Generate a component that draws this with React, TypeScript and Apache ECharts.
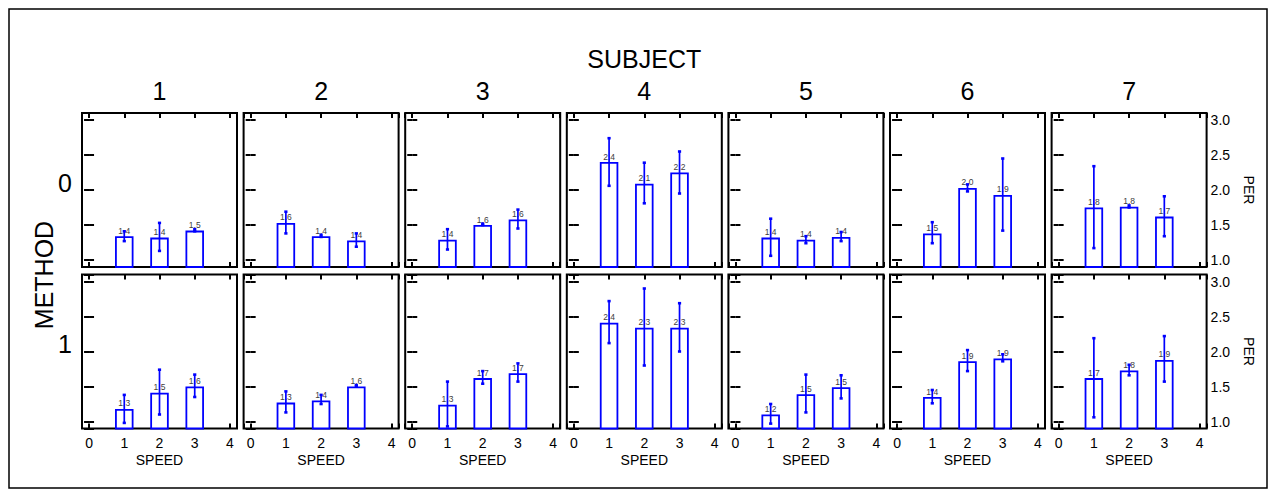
import React, { useEffect, useRef } from "react";
import * as echarts from "echarts";

// ---- data ----
const SUBJECTS = ["1", "2", "3", "4", "5", "6", "7"];
const METHODS = ["0", "1"];
const SPEEDS = [1, 2, 3];
const X_TICKS = [0, 1, 2, 3, 4];
const Y_TICKS = [1.0, 1.5, 2.0, 2.5, 3.0];

// METHOD 0 : per subject, per speed
const MEAN_M0 = [
  [1.34, 1.32, 1.42],
  [1.53, 1.34, 1.28],
  [1.29, 1.50, 1.58],
  [2.40, 2.09, 2.25],
  [1.32, 1.29, 1.33],
  [1.38, 2.03, 1.93],
  [1.75, 1.76, 1.62],
];
const LOW_M0 = [
  [1.27, 1.13, 1.41],
  [1.38, 1.33, 1.19],
  [1.15, 1.50, 1.45],
  [2.06, 1.81, 1.95],
  [1.06, 1.24, 1.27],
  [1.24, 1.98, 1.42],
  [1.17, 1.75, 1.34],
];
const HIGH_M0 = [
  [1.41, 1.53, 1.44],
  [1.69, 1.36, 1.38],
  [1.44, 1.52, 1.72],
  [2.74, 2.39, 2.55],
  [1.59, 1.34, 1.40],
  [1.54, 2.08, 2.45],
  [2.34, 1.78, 1.91],
];
const LABEL_M0 = [
  ["1.4", "1.4", "1.5"],
  ["1.6", "1.4", "1.4"],
  ["1.4", "1.6", "1.6"],
  ["2.4", "2.1", "2.2"],
  ["1.4", "1.4", "1.4"],
  ["1.5", "2.0", "1.9"],
  ["1.8", "1.8", "1.7"],
];

// METHOD 1
const MEAN_M1 = [
  [1.18, 1.41, 1.50],
  [1.27, 1.30, 1.50],
  [1.24, 1.62, 1.69],
  [2.41, 2.34, 2.34],
  [1.10, 1.39, 1.49],
  [1.35, 1.86, 1.90],
  [1.62, 1.73, 1.88],
];
const LOW_M1 = [
  [0.98, 1.10, 1.35],
  [1.13, 1.25, 1.50],
  [0.93, 1.54, 1.57],
  [2.12, 1.80, 2.00],
  [0.97, 1.13, 1.33],
  [1.26, 1.72, 1.86],
  [1.06, 1.66, 1.57],
];
const HIGH_M1 = [
  [1.38, 1.74, 1.67],
  [1.43, 1.38, 1.52],
  [1.57, 1.72, 1.83],
  [2.72, 2.90, 2.69],
  [1.25, 1.67, 1.66],
  [1.45, 2.02, 1.96],
  [2.19, 1.81, 2.22],
];
const LABEL_M1 = [
  ["1.3", "1.5", "1.6"],
  ["1.3", "1.4", "1.6"],
  ["1.3", "1.7", "1.7"],
  ["2.4", "2.3", "2.3"],
  ["1.2", "1.5", "1.5"],
  ["1.4", "1.9", "1.9"],
  ["1.7", "1.8", "1.9"],
];

const MEANS = [MEAN_M0, MEAN_M1];
const LOWS = [LOW_M0, LOW_M1];
const HIGHS = [HIGH_M0, HIGH_M1];
const LABELS = [LABEL_M0, LABEL_M1];

// ---- layout / style ----
const FONT = "'Liberation Sans', Arial, Helvetica, sans-serif";
const BLUE = "#0000ff";
const GRID_LEFT0 = 82;
const GRID_PITCH = 161.6;
const GRID_W = 155;
const GRID_H = 154;
const ROW_TOPS = [113, 274.5];

function isTick(v: number, list: number[]) {
  return list.some((t) => Math.abs(t - v) < 1e-6);
}

function errorRender(params: any, api: any) {
  const x = api.value(0);
  const lo = api.value(1);
  const hi = api.value(2);
  const pLo = api.coord([x, lo]);
  const pHi = api.coord([x, hi]);
  return {
    type: "group",
    children: [
      {
        type: "line",
        shape: { x1: pLo[0], y1: pLo[1], x2: pHi[0], y2: pHi[1] },
        style: { stroke: BLUE, lineWidth: 1.7 },
      },
      {
        type: "rect",
        shape: { x: pHi[0] - 1.6, y: pHi[1] - 1.3, width: 3.2, height: 2.6 },
        style: { fill: BLUE },
      },
      {
        type: "rect",
        shape: { x: pLo[0] - 1.6, y: pLo[1] - 1.3, width: 3.2, height: 2.6 },
        style: { fill: BLUE },
      },
    ],
  };
}

function buildOption() {
  const grid: any[] = [];
  const xAxis: any[] = [];
  const yAxis: any[] = [];
  const series: any[] = [];

  METHODS.forEach((_m, r) => {
    SUBJECTS.forEach((_s, s) => {
      const g = r * SUBJECTS.length + s;
      grid.push({
        left: GRID_LEFT0 + GRID_PITCH * s,
        top: ROW_TOPS[r],
        width: GRID_W,
        height: GRID_H,
        show: true,
        borderColor: "#000",
        borderWidth: 2,
        backgroundColor: "transparent",
      });
      const tick = { show: true, inside: true, length: 5, lineStyle: { color: "#000", width: 2 } };
      xAxis.push({
        type: "value",
        gridIndex: g,
        position: "bottom",
        min: -0.2,
        max: 4.2,
        axisLine: { show: false },
        axisTick: tick,
        splitLine: { show: false },
        axisLabel: {
          show: r === 1,
          margin: 7,
          fontSize: 14,
          fontFamily: FONT,
          color: "#000",
          formatter: (v: number) => (isTick(v, X_TICKS) ? String(Math.round(v)) : ""),
        },
        name: r === 1 ? "SPEED" : "",
        nameLocation: "middle",
        nameGap: 24,
        nameTextStyle: { fontSize: 14, fontFamily: FONT, color: "#000" },
      });
      xAxis.push({
        type: "value",
        gridIndex: g,
        position: "top",
        min: -0.2,
        max: 4.2,
        axisLine: { show: false },
        axisTick: tick,
        splitLine: { show: false },
        axisLabel: { show: false },
      });
      yAxis.push({
        type: "value",
        gridIndex: g,
        position: "left",
        min: 0.9,
        max: 3.1,
        axisLine: { show: false },
        axisTick: tick,
        splitLine: { show: false },
        axisLabel: { show: false },
      });
      yAxis.push({
        type: "value",
        gridIndex: g,
        position: "right",
        min: 0.9,
        max: 3.1,
        axisLine: { show: false },
        axisTick: tick,
        splitLine: { show: false },
        axisLabel: {
          show: s === SUBJECTS.length - 1,
          margin: 4,
          fontSize: 14,
          fontFamily: FONT,
          color: "#000",
          formatter: (v: number) => (isTick(v, Y_TICKS) ? v.toFixed(1) : ""),
        },
      });

      series.push({
        type: "bar",
        xAxisIndex: 2 * g,
        yAxisIndex: 2 * g,
        data: SPEEDS.map((sp, i) => [sp, MEANS[r][s][i]]),
        barWidth: 18.5,
        clip: true,
        silent: true,
        z: 2,
        itemStyle: { color: "#ffffff", borderColor: BLUE, borderWidth: 1.8 },
        label: {
          show: true,
          position: "top",
          distance: 1,
          fontSize: 8.5,
          fontFamily: FONT,
          color: "#404040",
          formatter: (p: any) => LABELS[r][s][p.dataIndex],
        },
      });
      series.push({
        type: "custom",
        xAxisIndex: 2 * g,
        yAxisIndex: 2 * g,
        data: SPEEDS.map((sp, i) => [sp, LOWS[r][s][i], HIGHS[r][s][i]]),
        encode: { x: 0, y: [1, 2] },
        renderItem: errorRender,
        silent: true,
        z: 3,
      });
    });
  });

  const graphic: any[] = [
    {
      type: "rect",
      shape: { x: 9, y: 9, width: 1258, height: 479 },
      style: { fill: "none", stroke: "#000", lineWidth: 1.5 },
      z: 0,
    },
    {
      type: "text",
      x: GRID_LEFT0 + (GRID_PITCH * 6 + GRID_W) / 2,
      y: 59,
      style: { text: "SUBJECT", fontSize: 25, fontFamily: FONT, fill: "#000", align: "center", verticalAlign: "middle" },
    },
    {
      type: "text",
      x: 44,
      y: 275,
      rotation: Math.PI / 2,
      style: { text: "METHOD", fontSize: 25, fontFamily: FONT, fill: "#000", align: "center", verticalAlign: "middle" },
    },
  ];
  SUBJECTS.forEach((s, i) => {
    graphic.push({
      type: "text",
      x: GRID_LEFT0 + GRID_PITCH * i + GRID_W / 2,
      y: 91,
      style: { text: s, fontSize: 25, fontFamily: FONT, fill: "#000", align: "center", verticalAlign: "middle" },
    });
  });
  const rowLabelY = [183, 344];
  METHODS.forEach((m, r) => {
    graphic.push({
      type: "text",
      x: 65,
      y: rowLabelY[r],
      style: { text: m, fontSize: 25, fontFamily: FONT, fill: "#000", align: "center", verticalAlign: "middle" },
    });
    graphic.push({
      type: "text",
      x: 1249,
      y: ROW_TOPS[r] + GRID_H / 2,
      rotation: -Math.PI / 2,
      style: { text: "PER", fontSize: 14, fontFamily: FONT, fill: "#000", align: "center", verticalAlign: "middle" },
    });
  });

  return {
    animation: false,
    backgroundColor: "#ffffff",
    grid,
    xAxis,
    yAxis,
    series,
    graphic,
  };
}

export default function App() {
  const ref = useRef<HTMLDivElement>(null);
  useEffect(() => {
    if (!ref.current) return;
    const chart = echarts.init(ref.current, undefined, { renderer: "svg" });
    chart.setOption(buildOption() as any);
    return () => chart.dispose();
  }, []);
  return (
    <div
      ref={ref}
      style={{ position: "absolute", left: 0, top: 0, width: 1273, height: 490 }}
    />
  );
}
